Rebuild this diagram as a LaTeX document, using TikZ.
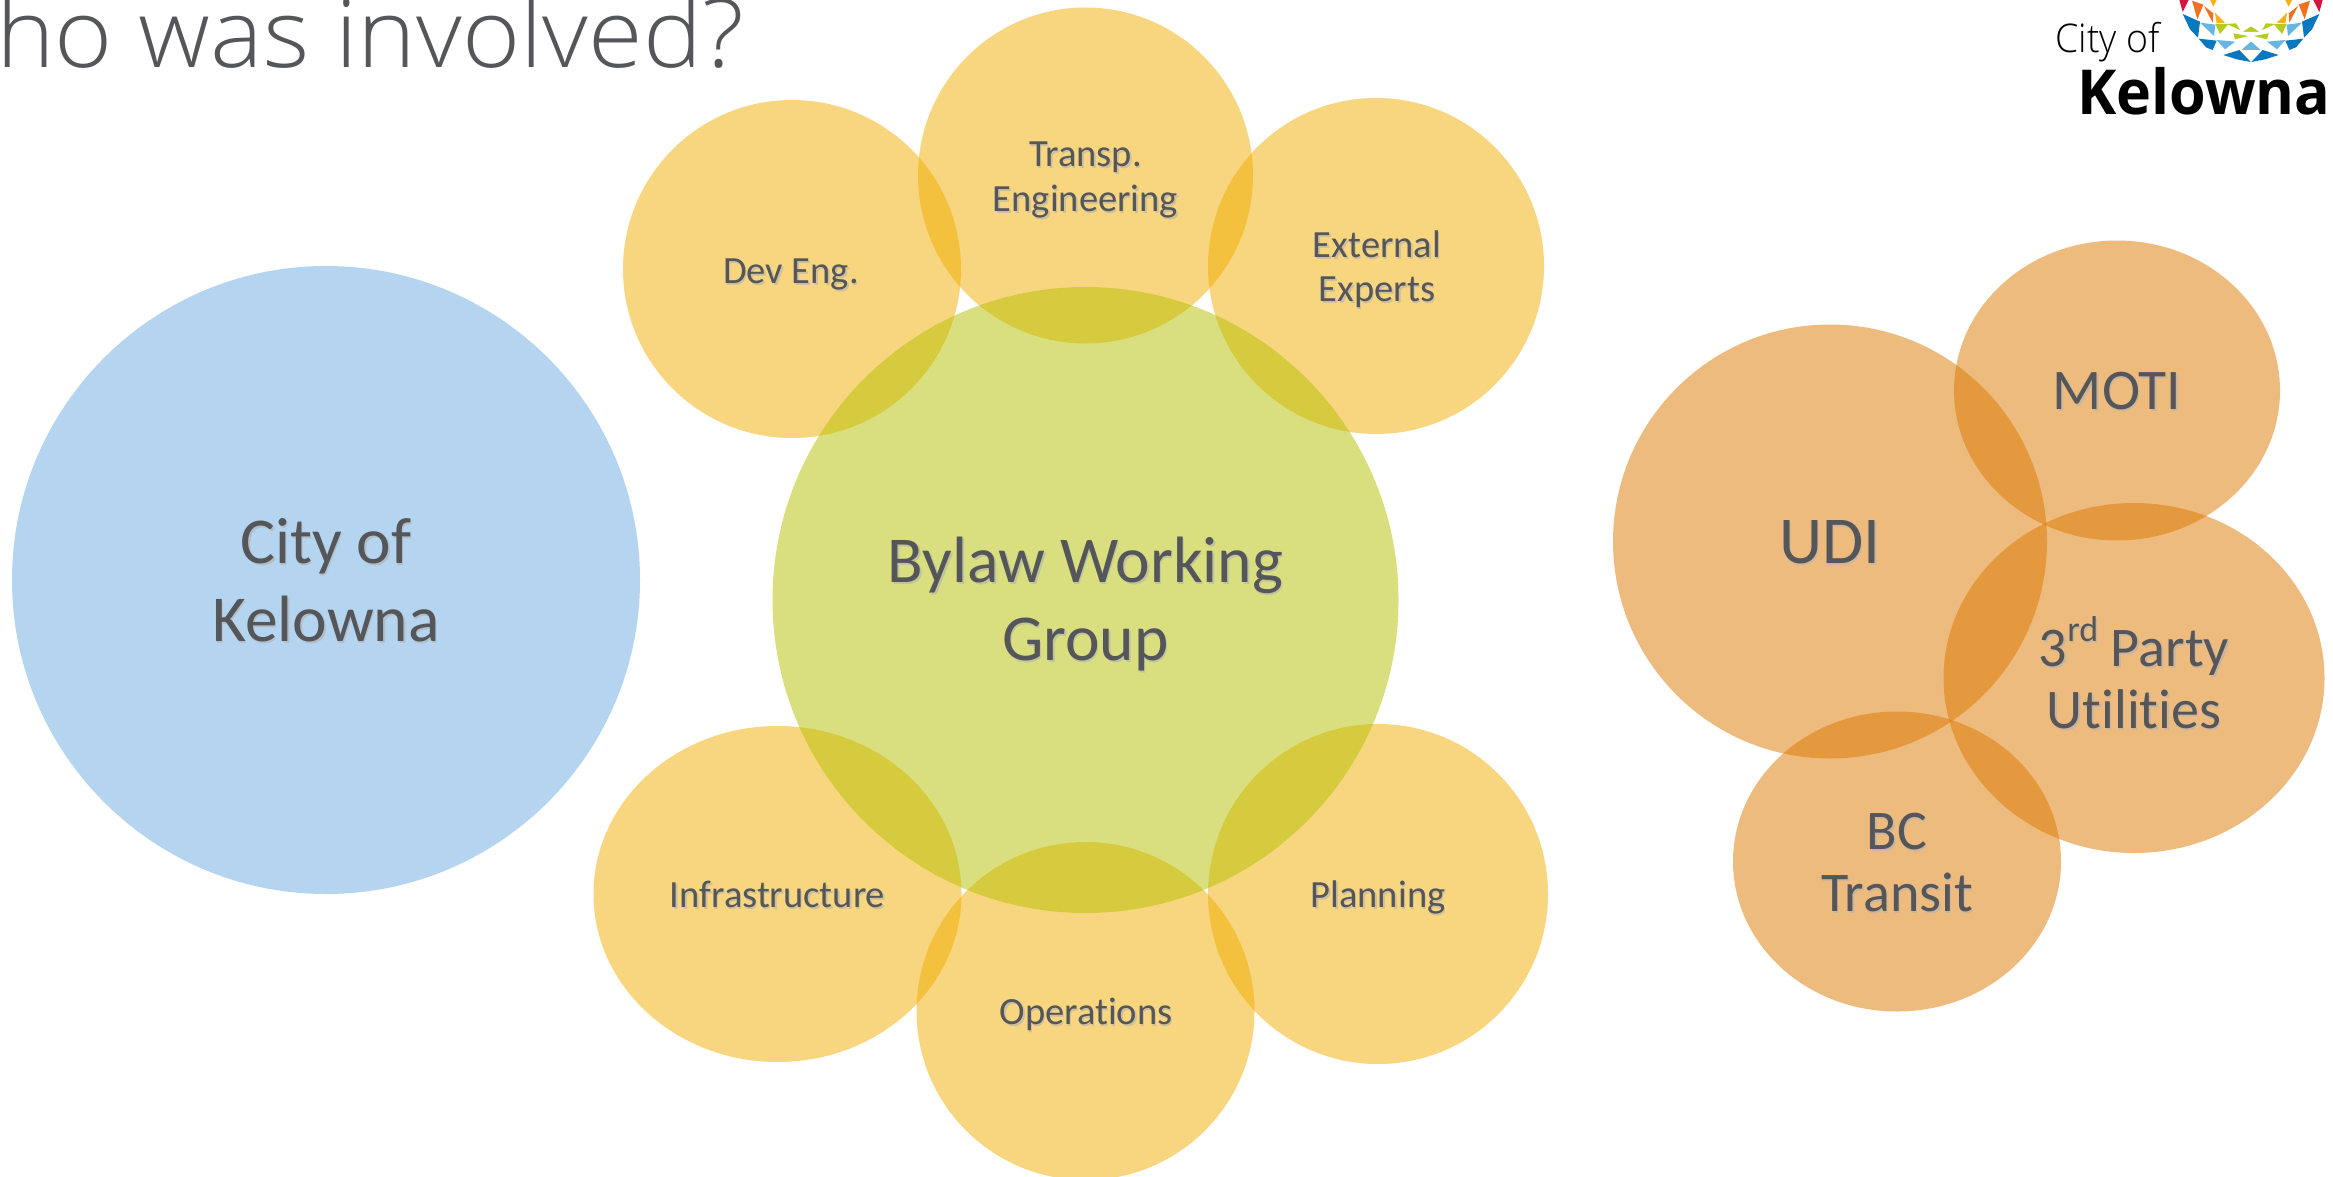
\documentclass[tikz,border=0pt]{standalone}
\usepackage{fontspec}
\usetikzlibrary{calc}
\setmainfont[Ligatures=NoCommon]{Carlito}
\newfontfamily\titlefont{Open Sans Light}
\newfontfamily\logofont{Open Sans Light}
\newfontfamily\logoboldfont{Open Sans}
\definecolor{blueC}{HTML}{6BABE1}
\definecolor{greenC}{HTML}{B5C100}
\definecolor{yellowC}{HTML}{F2AE00}
\definecolor{orangeC}{HTML}{DE7800}
\definecolor{inkC}{HTML}{55565A}
\definecolor{lgBlue}{HTML}{0A78BE}
\definecolor{lgSky}{HTML}{66B5E2}
\definecolor{lgLime}{HTML}{B5CC1E}
\definecolor{lgOrange}{HTML}{F37021}
\definecolor{lgGold}{HTML}{FBB116}
\definecolor{lgRed}{HTML}{D7143F}
\tikzset{
 x=1pt,y=-1pt,
 blob/.style={opacity=.5,draw=none},
 lab/.style={text=inkC,align=center,inner sep=0pt},
 labS/.style={lab,font=\fontsize{38.5}{44.5}\selectfont},
 labM/.style={lab,font=\fontsize{56}{62}\selectfont},
 labT/.style={lab,font=\fontsize{57.5}{62}\selectfont},
 labL/.style={lab,font=\fontsize{65.5}{78}\selectfont},
 labU/.style={lab,font=\fontsize{67}{78}\selectfont},
}
\newcommand{\shlab}[4]{%
 \node[#1,text=black!30,text opacity=.6] at ($(#2,#3)+(1.5,2)$) {#4};%
 \node[#1] at (#2,#3) {#4};}
\newcommand{\logohalf}{%
 \fill[lgBlue] (38,42) -- (90,65) -- (84,113) -- (60,88) -- cycle;
 \fill[lgBlue] (86,116) -- (140,122) -- (128,150) -- (108,142) -- cycle;
 \fill[lgBlue] (160,165) -- (208,150) -- (242,186) -- (200,178) -- cycle;
 \fill[lgSky] (90,68) -- (136,74) -- (132,108) -- cycle;
 \fill[lgSky] (140,120) -- (195,125) -- (165,148) -- cycle;
 \fill[lgSky] (243,125) -- (215,150) -- (271,150) -- cycle;
 \fill[lgLime] (136,72) -- (175,72) -- (150,102) -- cycle;
 \fill[lgLime] (170,72) -- (198,70) -- (210,90) -- cycle;
 \fill[lgLime] (190,100) -- (235,108) -- (195,118) -- cycle;
 \fill[lgLime] (243,80) -- (220,95) -- (266,95) -- cycle;
 \fill[lgRed] (28,0) -- (56,0) -- (38,36) -- cycle;
 \fill[lgOrange] (66,2) -- (100,14) -- (82,58) -- cycle;
 \fill[lgOrange] (102,18) -- (130,40) -- (128,68) -- cycle;
 \fill[lgGold] (120,0) -- (140,0) -- (130,20) -- cycle;
 \fill[lgGold] (135,38) -- (165,68) -- (140,70) -- cycle;
}
\begin{document}
\begin{tikzpicture}
\useasboundingbox (0,0) rectangle (2333,1177);
\fill[white] (0,0) rectangle (2333,1177);
\begin{scope}
\clip (0,0) rectangle (2333,1177);
% circles
\fill[blob,blueC] (326,580) circle [radius=314];
\fill[blob,yellowC] (1085.5,175.5) circle [x radius=167.5,y radius=168];
\fill[blob,yellowC] (792,269) circle [radius=169];
\fill[blob,yellowC] (1376,266) circle [radius=168];
\fill[blob,yellowC] (777.5,894) circle [x radius=184,y radius=168];
\fill[blob,yellowC] (1378,894) circle [radius=170];
\fill[blob,yellowC] (1085.5,1011) circle [radius=169];
\fill[blob,greenC] (1085.5,600) circle [radius=313];
\fill[blob,orangeC] (1830,541.5) circle [radius=217];
\fill[blob,orangeC] (2117,390.5) circle [x radius=163,y radius=150];
\fill[blob,orangeC] (2134,678) circle [x radius=190.5,y radius=175];
\fill[blob,orangeC] (1897,861.5) circle [x radius=164,y radius=150];
% title
\node[anchor=base west,inner sep=0pt,text=inkC,xscale=1.046,font=\titlefont\fontsize{95}{100}\selectfont] (title) at (-4,67.5) {ho was involved?};
% logo
\begin{scope}[shift={(2170,0)},x=0.3333pt,y=-0.3333pt]
\logohalf
\end{scope}
\begin{scope}[shift={(2332,0)},x=-0.3333pt,y=-0.3333pt]
\logohalf
\end{scope}
\node[anchor=base west,inner sep=0pt,text=black,xscale=.95,font=\logofont\fontsize{39.5}{42}\selectfont] (cityof) at (2055,53) {City of};
\node[anchor=base west,inner sep=0pt,text=black,xscale=.955,font=\logoboldfont\bfseries\fontsize{62}{64}\selectfont] (kelowna) at (2077,115) {Kelowna};
% labels
\shlab{labL}{326}{580}{City of\\Kelowna}
\shlab{labL}{1085.5}{604}{Bylaw Working\\Group}
\shlab{labS}{1085.5}{180}{Transp.\\Engineering}
\shlab{labS}{791}{274}{Dev Eng.}
\shlab{labS}{1377}{269}{External\\Experts}
\shlab{labS}{777.5}{894}{Infrastructure}
\shlab{labS}{1378}{897}{Planning}
\shlab{labS}{1086}{1014}{Operations}
\shlab{labU}{1830}{542}{UDI}
\shlab{labT}{2117}{391}{MOTI}
\shlab{labM}{2134}{673}{3\raisebox{25pt}{\fontsize{36}{36}\selectfont rd} Party\\Utilities}
\shlab{labM}{1897}{863}{BC\\Transit}
\end{scope}
\end{tikzpicture}
\end{document}
